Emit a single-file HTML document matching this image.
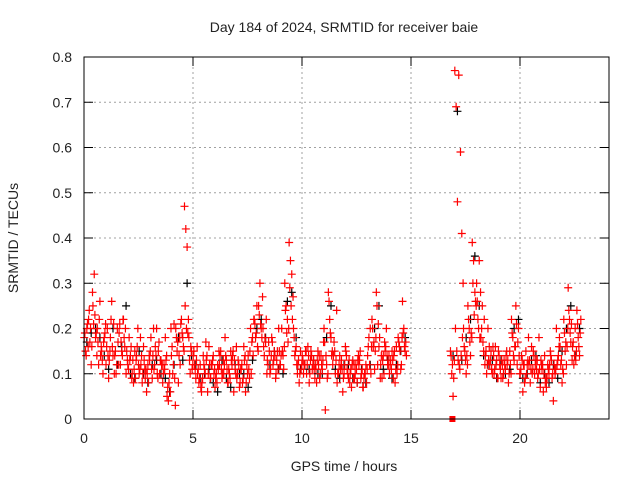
<!DOCTYPE html>
<html><head><meta charset="utf-8"><style>
body{margin:0;background:#fff;}
svg text{font-family:"Liberation Sans",sans-serif;font-size:14px;fill:#222;}
</style></head><body>
<svg id="chart" width="640" height="480" xmlns="http://www.w3.org/2000/svg">
<rect width="640" height="480" fill="#fff"/>
<text x="344" y="32" text-anchor="middle">Day 184 of 2024, SRMTID for receiver baie</text>
<text x="344" y="471" text-anchor="middle">GPS time / hours</text>
<text x="0" y="0" text-anchor="middle" transform="translate(18,238) rotate(-90)">SRMTID / TECUs</text>
<g id="grid"></g>
<g id="ticks"></g>
<g id="black"></g>
<g id="red"></g>
<rect x="84" y="57" width="525" height="362" fill="none" stroke="#000" stroke-width="1"/>
</svg>
<script>
const xTicks=[0,5,10,15,20];
const yTicks=[0,0.1,0.2,0.3,0.4,0.5,0.6,0.7,0.8];
const yTickLabels=["0","0.1","0.2","0.3","0.4","0.5","0.6","0.7","0.8"];
const times=[0.1,0.3,0.5,0.7,0.9,1.1,1.3,1.5,1.7,1.9,2.1,2.3,2.5,2.7,2.9,3.1,3.3,3.5,3.7,3.9,4.1,4.3,4.5,4.7,4.9,5.1,5.3,5.5,5.7,5.9,6.1,6.3,6.5,6.7,6.9,7.1,7.3,7.5,7.7,7.9,8.1,8.3,8.5,8.7,8.9,9.1,9.3,9.5,9.7,9.9,10.1,10.3,10.5,10.7,10.9,11.1,11.3,11.5,11.7,11.9,12.1,12.3,12.5,12.7,12.9,13.1,13.3,13.5,13.7,13.9,14.1,14.3,14.5,14.7,
16.9,17.1,17.3,17.5,17.7,17.9,18.1,18.3,18.5,18.7,18.9,19.1,19.3,19.5,19.7,19.9,20.1,20.3,20.5,20.7,20.9,21.1,21.3,21.5,21.7,21.9,22.1,22.3,22.5,22.7];
const redA=[.18,.22,.25,.20,.15,.12,.18,.14,.19,.22,.12,.10,.14,.12,.09,.13,.11,.15,.08,.05,.14,.20,.12,.47,.18,.14,.10,.08,.13,.09,.07,.12,.10,.08,.14,.09,.11,.06,.15,.22,.25,.20,.13,.18,.10,.12,.30,.39,.20,.12,.14,.10,.15,.12,.09,.20,.28,.12,.08,.13,.15,.10,.09,.12,.07,.14,.22,.28,.12,.15,.10,.14,.18,.26,
.15,.77,.12,.20,.25,.39,.30,.18,.14,.12,.10,.15,.09,.12,.22,.25,.10,.08,.12,.15,.09,.11,.07,.14,.10,.18,.22,.29,.16,.24];
const redB=[.15,.17,.32,.12,.10,.20,.26,.10,.12,.16,.18,.08,.20,.08,.06,.18,.16,.10,.12,.04,.10,.15,.22,.42,.10,.12,.08,.14,.06,.12,.10,.15,.18,.10,.06,.13,.08,.12,.10,.18,.30,.14,.17,.12,.15,.20,.25,.35,.14,.08,.10,.16,.11,.08,.14,.02,.22,.17,.10,.06,.11,.07,.12,.15,.10,.18,.16,.12,.09,.20,.13,.08,.16,.20,
.10,.69,.59,.15,.20,.35,.22,.25,.10,.15,.16,.12,.13,.08,.18,.12,.14,.15,.08,.10,.18,.06,.12,.09,.20,.12,.15,.22,.12,.18];
const redC=[.20,.12,.18,.26,.18,.09,.14,.20,.15,.10,.14,.15,.10,.16,.12,.09,.20,.13,.18,.10,.21,.08,.18,.38,.15,.09,.12,.11,.16,.14,.12,.09,.13,.15,.11,.07,.16,.14,.18,.25,.20,.17,.10,.15,.20,.14,.22,.32,.16,.15,.12,.08,.13,.15,.11,.12,.18,.10,.14,.10,.09,.13,.08,.10,.12,.20,.11,.16,.14,.12,.15,.16,.11,.15,
.05,.48,.41,.10,.14,.28,.35,.15,.20,.10,.13,.09,.11,.15,.13,.20,.06,.12,.16,.13,.07,.14,.10,.04,.13,.08,.12,.17,.20,.14];
const redD=[.16,.28,.14,.16,.21,.15,.10,.12,.22,.13,.09,.13,.18,.11,.14,.20,.09,.12,.14,.20,.03,.18,.15,.22,.12,.16,.06,.17,.09,.11,.15,.13,.08,.12,.16,.11,.14,.09,.22,.15,.27,.10,.14,.09,.12,.16,.20,.27,.10,.12,.15,.13,.09,.14,.17,.10,.15,.24,.12,.16,.08,.12,.14,.07,.11,.16,.18,.09,.17,.14,.09,.12,.18,.14,
.13,.76,.30,.12,.18,.25,.28,.12,.16,.14,.09,.12,.15,.10,.16,.10,.12,.18,.11,.13,.12,.09,.15,.11,.16,.10,.20,.13,.15,.22];
const redE=[.19,.24,.21,.17,.13,.16,.22,.15,.21,.18,.11,.13,.16,.14,.11,.15,.12,.17,.10,.07,.16,.18,.21,.25,.13,.15,.11,.09,.14,.12,.09,.14,.12,.11,.15,.10,.12,.08,.20,.21,.23,.16,.12,.17,.13,.14,.24,.29,.18,.13,.13,.12,.14,.11,.10,.17,.26,.14,.10,.11,.14,.11,.10,.13,.09,.16,.20,.25,.14,.16,.12,.15,.17,.19,
.14,.20,.11,.16,.22,.30,.26,.20,.15,.13,.11,.14,.10,.13,.19,.21,.11,.09,.13,.14,.10,.12,.09,.13,.11,.16,.19,.24,.17,.21];
const redF=[.14,.20,.23,.22,.17,.14,.16,.12,.17,.20,.13,.11,.12,.10,.10,.11,.14,.13,.11,.08,.12,.17,.19,.20,.16,.11,.09,.12,.10,.13,.08,.11,.14,.09,.13,.12,.09,.10,.17,.19,.21,.18,.15,.13,.11,.15,.19,.25,.15,.10,.12,.14,.12,.13,.12,.14,.19,.15,.12,.09,.10,.12,.11,.09,.10,.12,.17,.21,.13,.14,.11,.11,.15,.16,
.12,.15,.14,.13,.17,.23,.20,.17,.12,.11,.12,.11,.12,.10,.14,.17,.13,.10,.11,.12,.11,.10,.11,.10,.12,.13,.17,.19,.14,.16];
const redG=[.21,.16,.19,.14,.19,.13,.21,.17,.14,.15,.16,.09,.11,.13,.08,.14,.10,.12,.13,.06,.09,.14,.16,.19,.11,.13,.07,.10,.12,.10,.11,.10,.11,.13,.10,.08,.13,.11,.14,.16,.18,.22,.11,.14,.15,.11,.17,.22,.12,.11,.15,.10,.11,.12,.13,.09,.14,.13,.11,.12,.13,.09,.13,.11,.08,.10,.15,.18,.10,.12,.13,.10,.12,.17,
.09,.13,.18,.14,.19,.26,.18,.22,.13,.16,.09,.13,.14,.12,.16,.14,.12,.13,.10,.11,.13,.08,.12,.12,.14,.11,.16,.21,.13,.19];
const blackK=[.17,.19,.2,.18,.14,.11,.2,.12,.16,.25,.1,.09,.15,.1,.08,.12,.13,.1,.09,.06,.12,.18,.13,.3,.14,.12,.09,.1,.11,.08,.06,.13,.09,.07,.12,.1,.1,.07,.13,.2,.22,.18,.12,.15,.11,.1,.26,.28,.18,.11,.12,.11,.13,.1,.1,.18,.25,.11,.09,.12,.12,.09,.08,.11,.08,.12,.2,.25,.11,.13,.09,.12,.15,.18,
.14,.68,.13,.18,.22,.36,.25,.14,.12,.13,.09,.13,.1,.11,.2,.22,.09,.1,.13,.14,.08,.1,.08,.12,.09,.15,.2,.25,.14,.2];
const squareT=[16.9];
const squareV=[0];

const NS="http://www.w3.org/2000/svg";
function xs(v){return 84+v*21.8;}
function ys(v){return 419-v*452.5;}
function mk(tag,attrs,parent){const e=document.createElementNS(NS,tag);for(const k in attrs)e.setAttribute(k,attrs[k]);parent.appendChild(e);return e;}
const grid=document.getElementById('grid'),ticks=document.getElementById('ticks');
xTicks.forEach((t,i)=>{
  const x=xs(t);
  if(t>0){const g=mk('line',{x1:x,y1:57,x2:x,y2:419,stroke:'#a0a0a0','stroke-dasharray':'2,3'},grid);
  
  }
  mk('line',{x1:x,y1:419,x2:x,y2:410,stroke:'#000'},ticks);
  mk('line',{x1:x,y1:57,x2:x,y2:66,stroke:'#000'},ticks);
  const tx=mk('text',{x:x,y:443,'text-anchor':'middle'},ticks);tx.textContent=String(t);
  
  
});
yTicks.forEach((v,i)=>{
  const y=ys(v);
  if(v>0&&v<0.8){const g=mk('line',{x1:84,y1:y,x2:609,y2:y,stroke:'#a0a0a0','stroke-dasharray':'2,3'},grid);
  
  }
  mk('line',{x1:84,y1:y,x2:93,y2:y,stroke:'#000'},ticks);
  mk('line',{x1:600,y1:y,x2:609,y2:y,stroke:'#000'},ticks);
  const tx=mk('text',{x:72,y:y+5,'text-anchor':'end'},ticks);tx.textContent=yTickLabels[i];
  
  
});
function plus(g,t,v,color){
  const x=xs(t),y=ys(v);
  const p=mk('path',{d:`M${x-4},${y}H${x+4}M${x},${y-4}V${y+4}`,stroke:color,'stroke-width':1.2,fill:'none'},g);
  
  
}
const bg=document.getElementById('black'),rg=document.getElementById('red');
times.forEach((t,i)=>plus(bg,t+0.03,blackK[i],'#000'));
[[redA,-0.09],[redE,-0.06],[redB,-0.03],[redF,0.0],[redC,0.03],[redG,0.06],[redD,0.09]].forEach(([arr,off])=>{
  times.forEach((t,i)=>plus(rg,t+off,arr[i],'#f00'));
});
squareT.forEach((t,i)=>{
  const s=mk('rect',{x:xs(t)-3,y:ys(squareV[i])-3,width:6,height:6,fill:'#f00'},rg);
  
  
});
</script>
</body></html>
